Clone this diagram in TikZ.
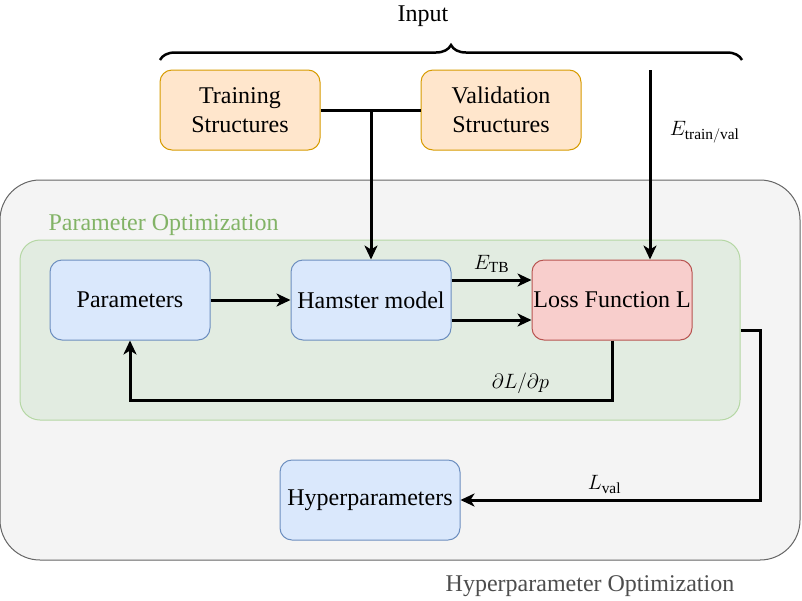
\documentclass[tikz,border=0pt]{standalone}
\usepackage{fontspec}
\setmainfont{Liberation Serif}
\usepackage{amsmath}
\usepackage{tikz}
\usetikzlibrary{
        arrows.meta,
        decorations.pathreplacing,
        positioning
    }
\definecolor{blufill}{HTML}{DAE8FC}
\definecolor{bluline}{HTML}{6C8EBF}
\definecolor{redfill}{HTML}{F8CECC}
\definecolor{redline}{HTML}{B85450}
\definecolor{orgfill}{HTML}{FFE6CC}
\definecolor{orgline}{HTML}{D79B00}
\definecolor{grnfill}{HTML}{E2ECE1}
\definecolor{grnline}{HTML}{B5D7A4}
\definecolor{grntext}{HTML}{82B366}
\definecolor{gryfill}{HTML}{F4F4F4}
\definecolor{gryline}{HTML}{666666}
\definecolor{grytext}{HTML}{4D4D4D}
\tikzset{>={Stealth[length=14pt,width=13pt,inset=4pt]},auto}
\tikzset{
    txt/.style={font=\fontsize{24}{29}\selectfont},
    mth/.style={font=\fontsize{22}{26}\selectfont},
    blk/.style={txt,draw=bluline,fill=blufill,line width=1pt,rounded corners=12pt,
        minimum width=160pt,minimum height=80pt,inner sep=0pt,align=center},
    lossblk/.style={blk,draw=redline,fill=redfill},
    inblk/.style={blk,draw=orgline,fill=orgfill},
    conn/.style={draw,line width=3pt}
}

\begin{document}
\begin{tikzpicture}[x=1pt,y=-1pt]
    \useasboundingbox (0,0) rectangle (802,600);
    % frames
    \node[draw=gryline,fill=gryfill,line width=1pt,rounded corners=40pt,
        minimum width=800pt,minimum height=380pt] (hbox) at (400,370) {};
    \node[draw=grnline,fill=grnfill,line width=1pt,rounded corners=20pt,
        minimum width=720pt,minimum height=180pt] (pbox) at (380,330) {};
    \node[txt,text=grntext,anchor=west] (ptitle) at (45,225) {Parameter Optimization};
    \node[txt,text=grytext] (htitle) at (590,586) {Hyperparameter Optimization};
    % blocks
    \node[blk] (params) at (130,300) {Parameters};
    \node[blk,right=80pt of params] (hamster) {Hamster model};
    \node[lossblk,right=80pt of hamster] (loss) {Loss Function L};
    \node[blk,minimum width=180pt] (hyper) at (370,500) {Hyperparameters};
    \node[inblk] (train) at (240,110) {Training\\Structures};
    \node[inblk,right=100pt of train] (valid) {Validation\\Structures};
    % input brace
    \coordinate (brl) at (160,60);
    \coordinate (brr) at (742,60);
    \draw[line width=2.5pt,decorate,decoration={brace,amplitude=15pt}] (brl) -- (brr);
    \node[txt] (input) at (423,16) {Input};
    \coordinate (etop) at (650,70);
    % connectors
    \path[conn] (train.east) -- (valid.west);
    \path[conn,->] (hamster.north |- train.east) -- (hamster.north);
    \path[conn,->] (etop) -- (etop |- loss.north)
        node[mth,pos=0.33,right=15pt] {$E_{\mathrm{train/val}}$};
    \path[conn,->] (params) -- (hamster);
    \path[conn,->] ([yshift=20pt]hamster.east) -- ([yshift=20pt]loss.west)
        node[mth,midway,above=3pt] {$E_{\mathrm{TB}}$};
    \path[conn,->] ([yshift=-20pt]hamster.east) -- ([yshift=-20pt]loss.west);
    \path[conn,->] (loss.south) -- ++(0,60) -| (params.south)
        node[mth,pos=0.095,above=2pt] {$\partial L/\partial p$};
    \path[conn,->] (pbox.east) -- ++(20,0) |- (hyper.east)
        node[mth,pos=0.76,above=2pt] {$L_{\mathrm{val}}$};
\end{tikzpicture}
\end{document}
